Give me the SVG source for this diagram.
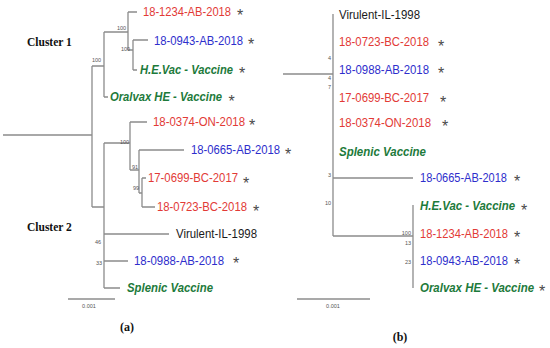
<svg xmlns="http://www.w3.org/2000/svg" width="550" height="348" viewBox="0 0 550 348">
<style>
.br{fill:none;stroke:#8c8c8c;stroke-width:1.3}
.t{font-family:"Liberation Sans",Arial,sans-serif;font-size:12px}
.r{fill:#e23a36}
.b{fill:#2e2ecc}
.g{fill:#1d7a3b;font-weight:bold;font-style:italic}
.k{fill:#1a1a1a}
.s{font-family:"Liberation Sans",Arial,sans-serif;font-size:16px;fill:#4a4a4a;text-anchor:middle}
.n{font-family:"Liberation Sans",Arial,sans-serif;font-size:5.5px;fill:#555}
.c{font-family:"Liberation Serif","Times New Roman",serif;font-weight:bold;fill:#111}
</style>
<rect width="550" height="348" fill="#fff"/>
<g id="connectors">
<path class="br" d="M3,135H92M92,66V207M92,66H104M104,32V97M104,97H108M104,32H128M128,12V50M128,12H137M128,50H133M133,40V70M133,40H148M133,70H137M92,207H104M104,143V288M104,143H130M130,122V170M130,122H147M130,170H139M139,150V193M139,150H184M139,193H142M142,178V207M142,178H146M142,207H155M104,234H169M104,261H128M104,288H120"/>
<path class="br" d="M68,299H115"/>
<path class="br" d="M283,74H333M333,14V236M333,178H413M333,236H413M413,205V288"/>
<path class="br" d="M297,299H370"/>
</g>
<g id="tree-a">
<text class="c" x="27" y="46" font-size="11.5">Cluster 1</text>
<text class="c" x="27" y="231" font-size="11.5">Cluster 2</text>
<g id="a-1234"><text class="t r" x="143" y="16.3" textLength="88" lengthAdjust="spacingAndGlyphs">18-1234-AB-2018</text><text class="s" x="240" y="21">*</text></g>
<g id="a-0943"><text class="t b" x="154" y="45.3" textLength="89" lengthAdjust="spacingAndGlyphs">18-0943-AB-2018</text><text class="s" x="251" y="50">*</text></g>
<g id="a-hevac"><text class="t g" x="140" y="74.3" textLength="93" lengthAdjust="spacingAndGlyphs">H.E.Vac - Vaccine</text><text class="s" x="242" y="79">*</text></g>
<g id="a-oralvax"><text class="t g" x="110" y="101.3" textLength="112" lengthAdjust="spacingAndGlyphs">Oralvax HE - Vaccine</text><text class="s" x="231.5" y="106.5">*</text></g>
<g id="a-0374"><text class="t r" x="153" y="126.3" textLength="92" lengthAdjust="spacingAndGlyphs">18-0374-ON-2018</text><text class="s" x="252" y="131">*</text></g>
<g id="a-0665"><text class="t b" x="191" y="154.3" textLength="89" lengthAdjust="spacingAndGlyphs">18-0665-AB-2018</text><text class="s" x="288" y="159.5">*</text></g>
<g id="a-0699"><text class="t r" x="148" y="182.3" textLength="90" lengthAdjust="spacingAndGlyphs">17-0699-BC-2017</text><text class="s" x="246" y="188.5">*</text></g>
<g id="a-0723"><text class="t r" x="157" y="211.3" textLength="90" lengthAdjust="spacingAndGlyphs">18-0723-BC-2018</text><text class="s" x="256" y="216.5">*</text></g>
<g id="a-virulent"><text class="t k" x="176" y="238.3" textLength="81" lengthAdjust="spacingAndGlyphs">Virulent-IL-1998</text></g>
<g id="a-0988"><text class="t b" x="134" y="265.3" textLength="90" lengthAdjust="spacingAndGlyphs">18-0988-AB-2018</text><text class="s" x="236" y="269">*</text></g>
<g id="a-splenic"><text class="t g" x="127" y="292.3" textLength="86" lengthAdjust="spacingAndGlyphs">Splenic Vaccine</text></g>
<text class="n" x="92" y="62">100</text>
<text class="n" x="117" y="30">100</text>
<text class="n" x="121" y="51">100</text>
<text class="n" x="120" y="144">100</text>
<text class="n" x="132" y="169">91</text>
<text class="n" x="133" y="190">99</text>
<text class="n" x="95" y="244">46</text>
<text class="n" x="96" y="265">33</text>
<text class="n" x="89" y="308" text-anchor="middle">0.001</text>
<text class="c" x="127" y="331" font-size="12" text-anchor="middle">(a)</text>
</g>
<g id="tree-b">
<g id="b-virulent"><text class="t k" x="339" y="19.3" textLength="81" lengthAdjust="spacingAndGlyphs">Virulent-IL-1998</text></g>
<g id="b-0723"><text class="t r" x="339" y="46.3" textLength="90" lengthAdjust="spacingAndGlyphs">18-0723-BC-2018</text><text class="s" x="441" y="51.5">*</text></g>
<g id="b-0988"><text class="t b" x="339" y="74.3" textLength="90" lengthAdjust="spacingAndGlyphs">18-0988-AB-2018</text><text class="s" x="441" y="79">*</text></g>
<g id="b-0699"><text class="t r" x="339" y="102.3" textLength="90" lengthAdjust="spacingAndGlyphs">17-0699-BC-2017</text><text class="s" x="443" y="108">*</text></g>
<g id="b-0374"><text class="t r" x="339" y="127.3" textLength="92" lengthAdjust="spacingAndGlyphs">18-0374-ON-2018</text><text class="s" x="445" y="132">*</text></g>
<g id="b-splenic"><text class="t g" x="339" y="156.3" textLength="87" lengthAdjust="spacingAndGlyphs">Splenic Vaccine</text></g>
<g id="b-0665"><text class="t b" x="420" y="182.3" font-size="11.5" textLength="87" lengthAdjust="spacingAndGlyphs">18-0665-AB-2018</text><text class="s" x="517" y="187">*</text></g>
<g id="b-hevac"><text class="t g" x="420" y="210.3" textLength="95" lengthAdjust="spacingAndGlyphs">H.E.Vac - Vaccine</text><text class="s" x="524" y="215.5">*</text></g>
<g id="b-1234"><text class="t r" x="420" y="238.3" font-size="11.5" textLength="88" lengthAdjust="spacingAndGlyphs">18-1234-AB-2018</text><text class="s" x="517" y="243">*</text></g>
<g id="b-0943"><text class="t b" x="420" y="265.3" textLength="88" lengthAdjust="spacingAndGlyphs">18-0943-AB-2018</text><text class="s" x="517" y="270">*</text></g>
<g id="b-oralvax"><text class="t g" x="420" y="292.3" textLength="114" lengthAdjust="spacingAndGlyphs">Oralvax HE - Vaccine</text><text class="s" x="542" y="297">*</text></g>
<text class="n" x="331" y="60" text-anchor="end">4</text>
<text class="n" x="331" y="80" text-anchor="end">4</text>
<text class="n" x="331" y="89" text-anchor="end">7</text>
<text class="n" x="331" y="177" text-anchor="end">3</text>
<text class="n" x="331" y="205" text-anchor="end">10</text>
<text class="n" x="411" y="235" text-anchor="end">100</text>
<text class="n" x="411" y="245" text-anchor="end">13</text>
<text class="n" x="411" y="264" text-anchor="end">23</text>
<text class="n" x="333" y="308" text-anchor="middle">0.001</text>
<text class="c" x="400" y="341" font-size="12" text-anchor="middle">(b)</text>
</g>
</svg>
